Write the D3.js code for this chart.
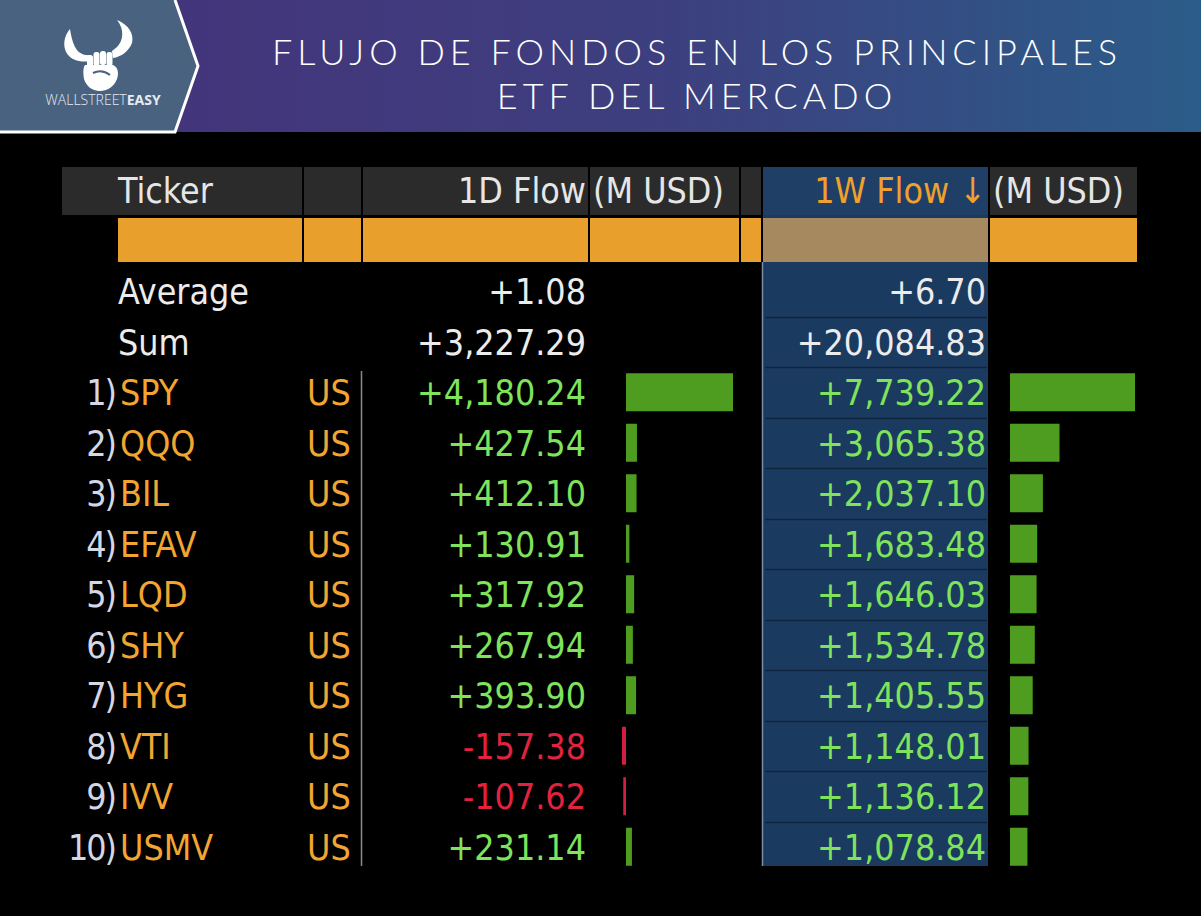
<!DOCTYPE html>
<html>
<head>
<meta charset="utf-8">
<script src="https://cdn.jsdelivr.net/npm/d3@7"></script>
<style>
  html, body { margin: 0; padding: 0; background: #000; }
  svg { display: block; }
</style>
</head>
<body>
<div id="chart"></div>
<script>
// ---------- DATA ----------
const titleLines = ["FLUJO DE FONDOS EN LOS PRINCIPALES", "ETF DEL MERCADO"];
const headerLabels = ["Ticker", "1D Flow", "(M USD)", "1W Flow \u2193", "(M USD)"];
const summaryLabels = ["Average", "Sum"];
const summary1D = [1.08, 3227.29];
const summary1W = [6.70, 20084.83];
const ranks = ["1)", "2)", "3)", "4)", "5)", "6)", "7)", "8)", "9)", "10)"];
const tickers = ["SPY", "QQQ", "BIL", "EFAV", "LQD", "SHY", "HYG", "VTI", "IVV", "USMV"];
const countries = ["US", "US", "US", "US", "US", "US", "US", "US", "US", "US"];
const flow1D = [4180.24, 427.54, 412.10, 130.91, 317.92, 267.94, 393.90, -157.38, -107.62, 231.14];
const flow1W = [7739.22, 3065.38, 2037.10, 1683.48, 1646.03, 1534.78, 1405.55, 1148.01, 1136.12, 1078.84];

// ---------- SETUP ----------
const W = 1201, H = 916;
const svg = d3.select("#chart").append("svg").attr("width", W).attr("height", H);
svg.append("rect").attr("width", W).attr("height", H).attr("fill", "#000");

const FONT = "'DejaVu Sans Condensed', 'DejaVu Sans', sans-serif";
const FS = 35.5;
const fmt = d3.formatLocale({decimal: ".", thousands: ",", grouping: [3], currency: ["$", ""], minus: "-"}).format("+,.2f");

// ---------- HEADER BANNER ----------
const defs = svg.append("defs");
const grad = defs.append("linearGradient").attr("id", "bannerGrad")
  .attr("x1", "0%").attr("x2", "100%").attr("y1", "0%").attr("y2", "0%");
grad.append("stop").attr("offset", "0%").attr("stop-color", "#46317a");
grad.append("stop").attr("offset", "55%").attr("stop-color", "#3d3f7f");
grad.append("stop").attr("offset", "100%").attr("stop-color", "#2b5c88");

svg.append("rect").attr("x", 0).attr("y", 0).attr("width", W).attr("height", 132).attr("fill", "url(#bannerGrad)");
svg.append("path").attr("d", "M0,0 L175,0 L198,66 L175,132 L0,132 Z").attr("fill", "#48627f");
svg.append("path").attr("d", "M0,132 L175,132 L198,66 L175,0")
  .attr("fill", "none").attr("stroke", "#fff").attr("stroke-width", 3);

// logo
const logo = svg.append("g").attr("fill", "#fff");
// left horn
logo.append("path").attr("d", "M70,29 C62,38 62,53 73,59 C79,62 86,62 91,61 L91,55 C84,56 78,53 75,47 C72,41 71,35 70,29 Z");
// right horn
logo.append("path").attr("d", "M117,20 C125,30 123,41 117,47 L112,51 L113,58 C121,57 129,51 132,43 C134,34 129,25 117,20 Z");
// fingers
[[87, 55], [93.5, 52], [100, 51], [106.5, 52]].forEach(([x, y]) =>
  logo.append("rect").attr("x", x).attr("y", y).attr("width", 6).attr("height", 14).attr("rx", 2.5));
// fist
logo.append("path").attr("d", "M85,65 L113,65 C118,67 119,73 117,79 C114,87 107,91 100,91 C92,91 86,86 84,79 C83,73 83,68 85,65 Z");
logo.append("path").attr("d", "M93,73 C99,70 105,71 110,75").attr("fill", "none").attr("stroke", "#48627f").attr("stroke-width", 2);
const logoText = svg.append("text").attr("x", 103).attr("y", 105).attr("text-anchor", "middle")
  .attr("font-family", "'Open Sans', sans-serif").attr("font-size", 14).attr("fill", "#e6ebf1");
logoText.append("tspan").attr("font-weight", 300).text("WALLSTREET");
logoText.append("tspan").attr("font-weight", 700).text("EASY");

// title (two lines)
svg.selectAll(".title").data(titleLines).join("text").attr("class", "title")
  .attr("x", 697).attr("y", (d, i) => 65 + i * 44)
  .attr("text-anchor", "middle")
  .attr("font-family", "Lato, 'Open Sans', sans-serif").attr("font-weight", 300)
  .attr("font-size", 36).attr("letter-spacing", 5.0)
  .attr("fill", "#fff").text(d => d);

// ---------- TABLE ----------
const rowKeys = summaryLabels.concat(tickers);
const y = d3.scaleBand().domain(rowKeys).range([266, 872]);
const cy = k => y(k) + y.bandwidth() / 2;

const x1D = d3.scaleLinear().domain([0, flow1D[0]]).range([626, 733]);
const x1W = d3.scaleLinear().domain([0, flow1W[0]]).range([1010, 1135]);

// column segments [x0, x1]
const cols = [[62, 302], [304, 361], [363, 588], [590, 739], [741, 761], [763, 988], [990, 1137]];
const blueCol = 5;

// blue highlight column
svg.append("rect").attr("x", 763).attr("y", 167).attr("width", 225).attr("height", 699).attr("fill", "#1b3a60");
svg.append("line").attr("x1", 762.5).attr("x2", 762.5).attr("y1", 262).attr("y2", 866)
  .attr("stroke", "#7d8da3").attr("stroke-width", 1.5);

// header row (grey)
svg.selectAll(".hdr").data(cols).join("rect").attr("class", "hdr")
  .attr("x", d => d[0]).attr("y", 167).attr("width", d => d[1] - d[0]).attr("height", 48)
  .attr("fill", (d, i) => i === blueCol ? "#1f3f66" : "#2b2b2b");

// orange filter row
const orangeCols = cols.map((d, i) => i === 0 ? [118, d[1]] : d);
svg.selectAll(".org").data(orangeCols).join("rect").attr("class", "org")
  .attr("x", d => d[0]).attr("y", 218).attr("width", d => d[1] - d[0]).attr("height", 44)
  .attr("fill", (d, i) => i === blueCol ? "#a6895f" : "#e99f2b");

// row separators in blue column
svg.selectAll(".sep").data(rowKeys.slice(1)).join("line").attr("class", "sep")
  .attr("x1", 765).attr("x2", 987)
  .attr("y1", d => Math.round(y(d)) + 0.5).attr("y2", d => Math.round(y(d)) + 0.5)
  .attr("stroke", "#10243d").attr("stroke-width", 1.5);

// vertical divider beside country column
svg.append("line").attr("x1", 361.5).attr("x2", 361.5).attr("y1", y(tickers[0]) + 4).attr("y2", 866)
  .attr("stroke", "#8a8a8a").attr("stroke-width", 1.5);

// header texts
const hdrY = 190;
const hdrPos = [[118, "start", "#e6e6e6"], [586, "end", "#e6e6e6"], [593, "start", "#e6e6e6"], [986, "end", "#f0a02c"], [993, "start", "#e6e6e6"]];
svg.selectAll(".htext").data(headerLabels).join("text").attr("class", "htext")
  .attr("x", (d, i) => hdrPos[i][0]).attr("y", hdrY).attr("dy", "0.36em")
  .attr("text-anchor", (d, i) => hdrPos[i][1]).attr("fill", (d, i) => hdrPos[i][2])
  .attr("font-family", FONT).attr("font-size", FS).text(d => d);

// summary rows
const sumG = svg.append("g").attr("font-family", FONT).attr("font-size", FS);
sumG.selectAll(".slab").data(summaryLabels).join("text")
  .attr("x", 118).attr("y", d => cy(d)).attr("dy", "0.36em").attr("fill", "#ececec").text(d => d);
sumG.selectAll(".s1d").data(summary1D).join("text")
  .attr("x", 586).attr("y", (d, i) => cy(summaryLabels[i])).attr("dy", "0.36em")
  .attr("text-anchor", "end").attr("fill", "#ececec").text(d => fmt(d));
sumG.selectAll(".s1w").data(summary1W).join("text")
  .attr("x", 986).attr("y", (d, i) => cy(summaryLabels[i])).attr("dy", "0.36em")
  .attr("text-anchor", "end").attr("fill", "#ececec").text(d => fmt(d));

// data rows
const rows = tickers.map((t, i) => ({t, rank: ranks[i], c: countries[i], d1: flow1D[i], w1: flow1W[i]}));
const rg = svg.append("g").attr("font-family", FONT).attr("font-size", FS);
rg.selectAll(".rank").data(rows).join("text")
  .attr("x", 115).attr("y", d => cy(d.t)).attr("dy", "0.36em").attr("text-anchor", "end")
  .attr("fill", "#d4d8e4").attr("letter-spacing", -2).text(d => d.rank);
rg.selectAll(".tick").data(rows).join("text")
  .attr("x", 120).attr("y", d => cy(d.t)).attr("dy", "0.36em")
  .attr("fill", "#f2a531").text(d => d.t);
rg.selectAll(".cty").data(rows).join("text")
  .attr("x", 307).attr("y", d => cy(d.t)).attr("dy", "0.36em")
  .attr("fill", "#f2a531").text(d => d.c);
rg.selectAll(".v1d").data(rows).join("text")
  .attr("x", 586).attr("y", d => cy(d.t)).attr("dy", "0.36em").attr("text-anchor", "end")
  .attr("fill", d => d.d1 < 0 ? "#e2223f" : "#7fe35c").text(d => fmt(d.d1));
rg.selectAll(".v1w").data(rows).join("text")
  .attr("x", 986).attr("y", d => cy(d.t)).attr("dy", "0.36em").attr("text-anchor", "end")
  .attr("fill", d => d.w1 < 0 ? "#e2223f" : "#7fe35c").text(d => fmt(d.w1));

// bars
const barH = 38;
svg.selectAll(".b1d").data(rows).join("rect").attr("class", "b1d")
  .attr("x", d => Math.min(x1D(0), x1D(d.d1)))
  .attr("width", d => Math.max(1.5, Math.abs(x1D(d.d1) - x1D(0))))
  .attr("y", d => cy(d.t) - barH / 2).attr("height", barH)
  .attr("fill", d => d.d1 < 0 ? "#d01f3f" : "#4f9d20");
svg.selectAll(".b1w").data(rows).join("rect").attr("class", "b1w")
  .attr("x", d => Math.min(x1W(0), x1W(d.w1)))
  .attr("width", d => Math.abs(x1W(d.w1) - x1W(0)))
  .attr("y", d => cy(d.t) - barH / 2).attr("height", barH)
  .attr("fill", d => d.w1 < 0 ? "#d01f3f" : "#4f9d20");
</script>
</body>
</html>
